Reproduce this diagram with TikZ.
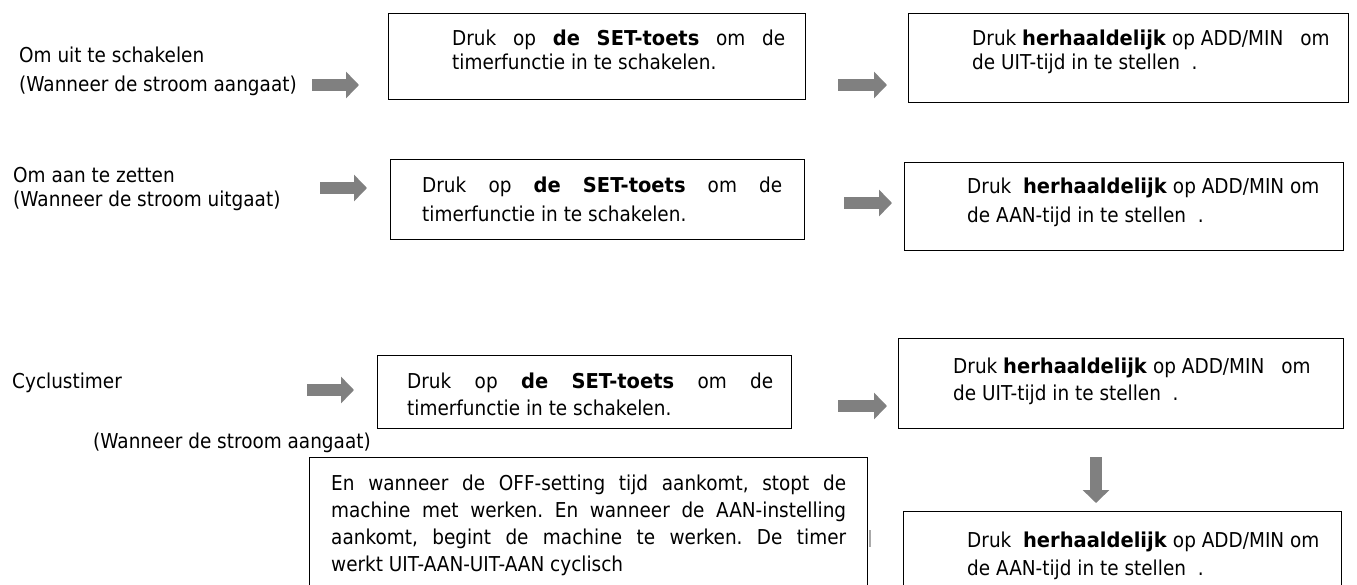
\documentclass[tikz,border=0pt]{standalone}
\usepackage{fontspec}
\setmainfont{DejaVu Sans}[FakeStretch=0.9, BoldFeatures={FakeStretch=0.95}]
\usetikzlibrary{arrows.meta}
\definecolor{arrowgray}{RGB}{128,128,128}
\definecolor{bargray}{RGB}{170,170,170}
\newcommand{\jline}[2]{\hbox to #1{\frenchspacing\spaceskip=0.3em plus 1fil minus 0.15em\relax #2}}
\tikzset{
  box/.style={draw=black, line width=1.3pt, rectangle, inner sep=0pt, anchor=north west},
  txt/.style={anchor=base west, inner sep=0pt, font=\fontsize{20.5}{24}\selectfont},
  blockarrow/.style={draw=arrowgray, line width=12pt, -{Triangle[length=13pt,width=26pt]}},
}
\begin{document}
\begin{tikzpicture}[x=1pt,y=-1pt]
\useasboundingbox (0,0) rectangle (1357,584);

% ---------- Row 1 ----------
\node[txt] (l1a) at (19,62) {Om uit te schakelen};
\node[txt] (l1b) at (19,91) {(Wanneer de stroom aangaat)};
\node[box, minimum width=417pt, minimum height=86pt] (A1) at (388,13) {};
\node[txt] (a1t1) at (452,45) {\jline{333pt}{Druk op \textbf{de SET-toets} om de}};
\node[txt] (a1t2) at (452,69) {timerfunctie in te schakelen.};
\node[box, minimum width=440pt, minimum height=89pt] (A2) at (908,13) {};
\node[txt] (a2t1) at (972,45) {Druk \textbf{herhaaldelijk} op ADD/MIN\hspace{17pt}om};
\node[txt] (a2t2) at (972,69) {de UIT-tijd in te stellen~~.};
\coordinate (r1s) at (312,85);
\coordinate (r1e) at (359,85);
\coordinate (r1s2) at (838,85);
\coordinate (r1e2) at (887,85);
\draw[blockarrow] (r1s) -- (r1e);
\draw[blockarrow] (r1s2) -- (r1e2);

% ---------- Row 2 ----------
\node[txt] (l2a) at (13,182) {Om aan te zetten};
\node[txt] (l2b) at (13,206) {(Wanneer de stroom uitgaat)};
\node[box, minimum width=414pt, minimum height=80pt] (B1) at (390,159) {};
\node[txt] (b1t1) at (422,192) {\jline{360pt}{Druk op \textbf{de} \textbf{SET-toets} om de}};
\node[txt] (b1t2) at (422,221) {timerfunctie in te schakelen.};
\node[box, minimum width=439pt, minimum height=88pt] (B2) at (904,162) {};
\node[txt] (b2t1) at (967,193) {Druk\ \ \textbf{herhaaldelijk} op ADD/MIN om};
\node[txt] (b2t2) at (967,222) {de AAN-tijd in te stellen~~.};
\coordinate (r2s) at (320,188);
\coordinate (r2e) at (367,188);
\coordinate (r2s2) at (844,203);
\coordinate (r2e2) at (892,203);
\draw[blockarrow] (r2s) -- (r2e);
\draw[blockarrow] (r2s2) -- (r2e2);

% ---------- Row 3 ----------
\node[txt] (l3a) at (12,388) {Cyclustimer};
\node[txt] (l3b) at (93,448) {(Wanneer de stroom aangaat)};
\node[box, minimum width=414pt, minimum height=73pt] (C1) at (377,355) {};
\node[txt] (c1t1) at (407,388) {\jline{366pt}{Druk op \textbf{de} \textbf{SET-toets} om de}};
\node[txt] (c1t2) at (407,415) {timerfunctie in te schakelen.};
\node[box, minimum width=445pt, minimum height=90pt] (C2) at (898,338) {};
\node[txt] (c2t1) at (953,373) {Druk \textbf{herhaaldelijk} op ADD/MIN\hspace{17pt}om};
\node[txt] (c2t2) at (953,400) {de UIT-tijd in te stellen~~.};
\node[box, minimum width=438pt, minimum height=90pt] (C3) at (903,511) {};
\node[txt] (c3t1) at (967,547) {Druk\ \ \textbf{herhaaldelijk} op ADD/MIN om};
\node[txt] (c3t2) at (967,575) {de AAN-tijd in te stellen~~.};
\node[box, minimum width=558pt, minimum height=140pt] (D) at (309,457) {};
\node[txt] (dt1) at (331,490) {\jline{515pt}{En wanneer de OFF-setting tijd aankomt, stopt de}};
\node[txt] (dt2) at (331,517) {\jline{515pt}{machine met werken. En wanneer de AAN-instelling}};
\node[txt] (dt3) at (331,544) {\jline{515pt}{aankomt, begint de machine te werken. De timer}};
\node[txt] (dt4) at (331,571) {werkt UIT-AAN-UIT-AAN cyclisch};
\coordinate (barA) at (870,530);
\coordinate (barB) at (870,547);
\draw[bargray, line width=1.5pt] (barA) -- (barB);
\coordinate (r3s) at (307,390);
\coordinate (r3e) at (354,390);
\coordinate (r3s2) at (838,406);
\coordinate (r3e2) at (887,406);
\draw[blockarrow] (r3s) -- (r3e);
\draw[blockarrow] (r3s2) -- (r3e2);
\coordinate (dns) at (1096,457);
\coordinate (dne) at (1096,503);
\draw[blockarrow] (dns) -- (dne);
\end{tikzpicture}
\end{document}
